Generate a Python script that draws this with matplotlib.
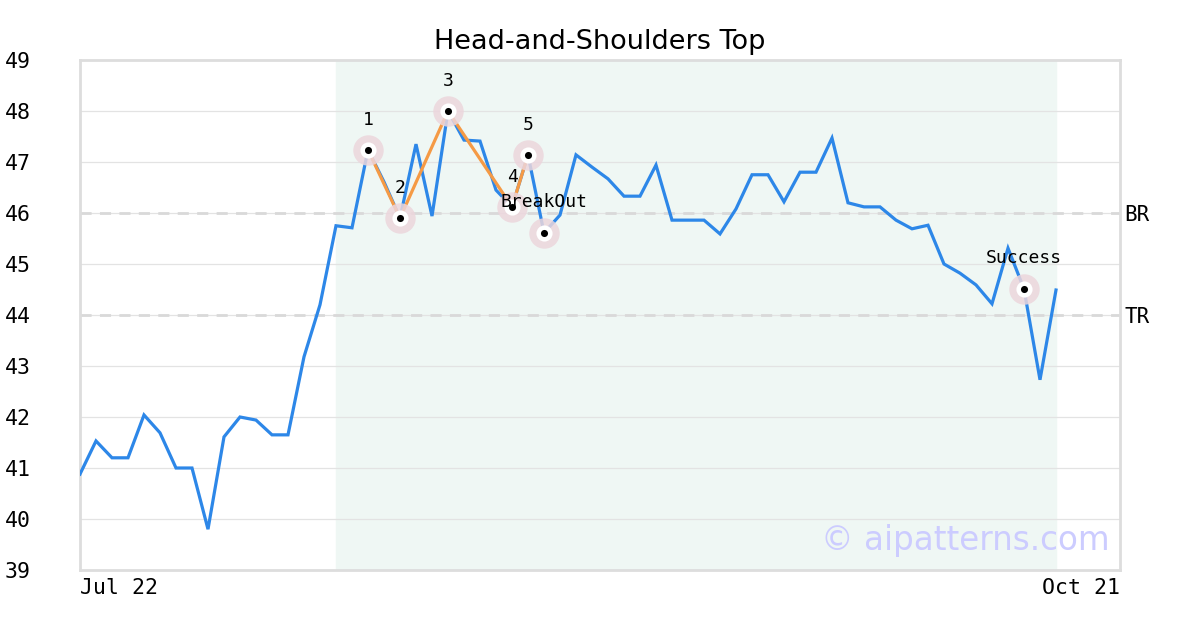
import matplotlib
matplotlib.use("Agg")
import matplotlib.pyplot as plt
import matplotlib.transforms as mtransforms

# ---- data ----
prices = [40.88, 41.53, 41.20, 41.20, 42.04, 41.69, 41.00, 41.00, 39.80, 41.61,
          42.00, 41.94, 41.65, 41.65, 43.18, 44.20, 45.75, 45.71, 47.24, 46.61,
          45.90, 47.35, 45.94, 48.00, 47.43, 47.41, 46.45, 46.12, 47.14, 45.61,
          45.96, 47.14, 46.90, 46.67, 46.33, 46.33, 46.94, 45.86, 45.86, 45.86,
          45.59, 46.08, 46.75, 46.75, 46.22, 46.80, 46.80, 47.47, 46.20, 46.12,
          46.12, 45.86, 45.69, 45.76, 45.00, 44.82, 44.59, 44.22, 45.31, 44.51,
          42.73, 44.49]
pattern_idx = [18, 20, 23, 27, 28]
pattern_labels = ["1", "2", "3", "4", "5"]
breakout_idx = 29
success_idx = 59
breakout_level = 46.0
target_level = 44.0
shade_range = (16, 61)
x_labels = ["Jul 22", "Oct 21"]
title = "Head-and-Shoulders Top"

W, H = 1200, 630
fig = plt.figure(figsize=(W / 100, H / 100), dpi=100)
ax = fig.add_axes([80 / W, 60 / H, 1040 / W, 510 / H])

mono = "DejaVu Sans Mono"
xs = list(range(len(prices)))

ax.set_xlim(0, 65)
ax.set_ylim(39, 49)

ax.axvspan(shade_range[0], shade_range[1], color="#eff7f4", zorder=0)
for y in range(40, 49):
    ax.axhline(y, color="#e3e3e3", lw=0.9, zorder=1)
for lvl in (breakout_level, target_level):
    ax.axhline(lvl, color="#d9d9d9", lw=2, ls=(0, (4, 3)), zorder=1)

ax.plot(xs, prices, color="#2d87e8", lw=2.3, zorder=3, solid_joinstyle="miter")
px = pattern_idx
py = [prices[i] for i in px]
ax.plot(px, py, color="#f59a45", lw=2.3, zorder=4)

marker_idx = px + [breakout_idx, success_idx]
mx = marker_idx
my = [prices[i] for i in mx]
ax.scatter(mx, my, s=480, color="#ecd6dc", alpha=0.85, zorder=5, linewidths=0)
ax.scatter(mx, my, s=135, color="white", zorder=6, linewidths=0)
ax.scatter(mx, my, s=26, color="black", zorder=7, linewidths=0)

for i, lab in zip(px, pattern_labels):
    ax.annotate(lab, (i, prices[i]), xytext=(0, 15), textcoords="offset points",
                ha="center", va="bottom", fontsize=13, family=mono, zorder=8)
ax.annotate("BreakOut", (breakout_idx, prices[breakout_idx]), xytext=(0, 16),
            textcoords="offset points", ha="center", va="bottom", fontsize=13,
            family=mono, zorder=8)
ax.annotate("Success", (success_idx, prices[success_idx]), xytext=(0, 16),
            textcoords="offset points", ha="center", va="bottom", fontsize=13,
            family=mono, zorder=8)

tr = ax.get_yaxis_transform() + mtransforms.ScaledTranslation(0, -2 / 100, fig.dpi_scale_trans)
ax.text(1.004, breakout_level, "BR", transform=tr,
        ha="left", va="center", fontsize=15, family=mono)
ax.text(1.004, target_level, "TR", transform=tr,
        ha="left", va="center", fontsize=15, family=mono)

ax.text(0.99, 0.025, "© aipatterns.com", transform=ax.transAxes, ha="right",
        va="bottom", fontsize=23.5, color="#ccccff", zorder=9)

ax.set_yticks(range(39, 50))
ax.set_yticklabels([str(v) for v in range(39, 50)], family=mono, fontsize=15.5)
ax.tick_params(axis="y", length=0, pad=54)
for lab in ax.get_yticklabels():
    lab.set_horizontalalignment("left")

ax.set_xticks([0, 65])
ax.set_xticklabels(x_labels, family=mono, fontsize=15.5)
ax.tick_params(axis="x", length=0, pad=6)
xl = ax.get_xticklabels()
xl[0].set_horizontalalignment("left")
xl[1].set_horizontalalignment("right")

for s in ax.spines.values():
    s.set_color("#dddddd")
    s.set_linewidth(2)

ax.set_title(title, fontsize=19.5, pad=8)

fig.savefig("out.png", dpi=100)
